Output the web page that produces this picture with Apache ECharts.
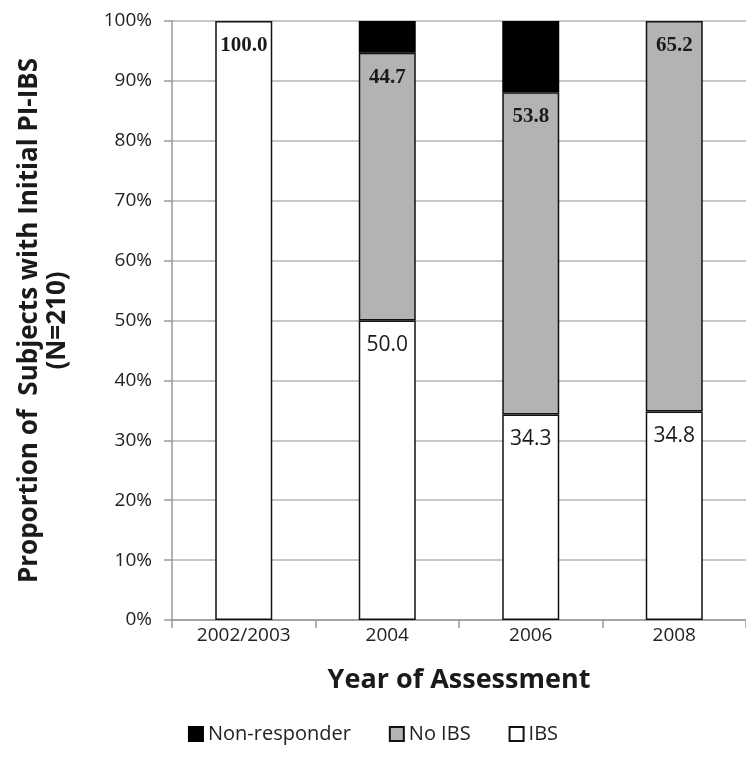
<!DOCTYPE html>
<html>
<head>
<meta charset="utf-8">
<script src="https://cdn.jsdelivr.net/npm/echarts@6/dist/echarts.min.js"></script>
<style>
  html, body { margin: 0; padding: 0; background: #fff; }
  #chart { width: 746px; height: 779px; }
</style>
</head>
<body>
<div id="chart"></div>
<script>
const years = ['2002/2003', '2004', '2006', '2008'];
const ibs = [100.0, 50.0, 34.3, 34.8];
const noIbs = [null, 44.7, 53.8, 65.2];
const nonResponder = [null, 5.3, 11.9, null];
const yTicks = [0, 10, 20, 30, 40, 50, 60, 70, 80, 90, 100];

const chart = echarts.init(document.getElementById('chart'));

const labelBase = {
  show: true,
  position: 'insideTop',
  distance: 14,
  color: '#1a1a1a',
  fontSize: 21,
  fontFamily: 'Liberation Serif',
  fontWeight: 'bold',
  formatter: p => p.value == null ? '' : p.value.toFixed(1)
};

chart.setOption({
  animation: false,
  backgroundColor: '#fff',
  grid: { left: 172, top: 21, width: 582, height: 599 },
  legend: {
    bottom: 30,
    left: 'center',
    itemWidth: 14,
    itemHeight: 14,
    itemGap: 38,
    textStyle: { fontFamily: 'Open Sans', fontSize: 20, color: '#222' },
    data: [
      { name: 'Non-responder', icon: 'rect' },
      { name: 'No IBS', icon: 'rect' },
      { name: 'IBS', icon: 'rect' }
    ]
  },
  xAxis: {
    type: 'category',
    data: years,
    name: 'Year of Assessment',
    nameLocation: 'middle',
    nameGap: 47,
    nameTextStyle: { fontFamily: 'Open Sans', fontWeight: 'bold', fontSize: 27, color: '#1a1a1a' },
    axisLine: { lineStyle: { color: '#999', width: 1.5 } },
    axisTick: { show: true, length: 8, lineStyle: { color: '#999', width: 1.5 } },
    axisLabel: { margin: 6, fontFamily: 'Open Sans', fontSize: 19, color: '#222' }
  },
  yAxis: {
    type: 'value',
    min: 0,
    max: 100,
    interval: 10,
    name: 'Proportion of  Subjects with Initial PI-IBS\n(N=210)',
    nameLocation: 'middle',
    nameGap: 100,
    nameTextStyle: { fontFamily: 'Open Sans', fontWeight: 'bold', fontSize: 26, lineHeight: 28, color: '#1a1a1a', align: 'center' },
    axisLine: { show: true, lineStyle: { color: '#999', width: 1.5 } },
    axisTick: { show: true, length: 8, lineStyle: { color: '#999', width: 1.5 } },
    splitLine: { lineStyle: { color: '#b4b4b4', width: 1.5 } },
    axisLabel: {
      margin: 20,
      fontFamily: 'Open Sans',
      fontSize: 19,
      color: '#222',
      formatter: v => yTicks.includes(v) ? v + '%' : ''
    }
  },
  series: [
    {
      name: 'IBS',
      type: 'bar',
      stack: 'total',
      barWidth: 57,
      itemStyle: { color: '#ffffff', borderColor: '#111', borderWidth: 1.5 },
      label: { ...labelBase, fontFamily: 'Open Sans', fontWeight: 'normal' },
      data: ibs.map((v, i) => i === 0
        ? { value: v, label: { fontFamily: 'Liberation Serif', fontWeight: 'bold' } }
        : v)
    },
    {
      name: 'No IBS',
      type: 'bar',
      stack: 'total',
      barWidth: 57,
      itemStyle: { color: '#b3b3b3', borderColor: '#111', borderWidth: 1.5 },
      label: labelBase,
      data: noIbs
    },
    {
      name: 'Non-responder',
      type: 'bar',
      stack: 'total',
      barWidth: 57,
      itemStyle: { color: '#000000', borderColor: '#000', borderWidth: 1.5 },
      label: { show: false },
      data: nonResponder
    }
  ]
});
</script>
</body>
</html>
